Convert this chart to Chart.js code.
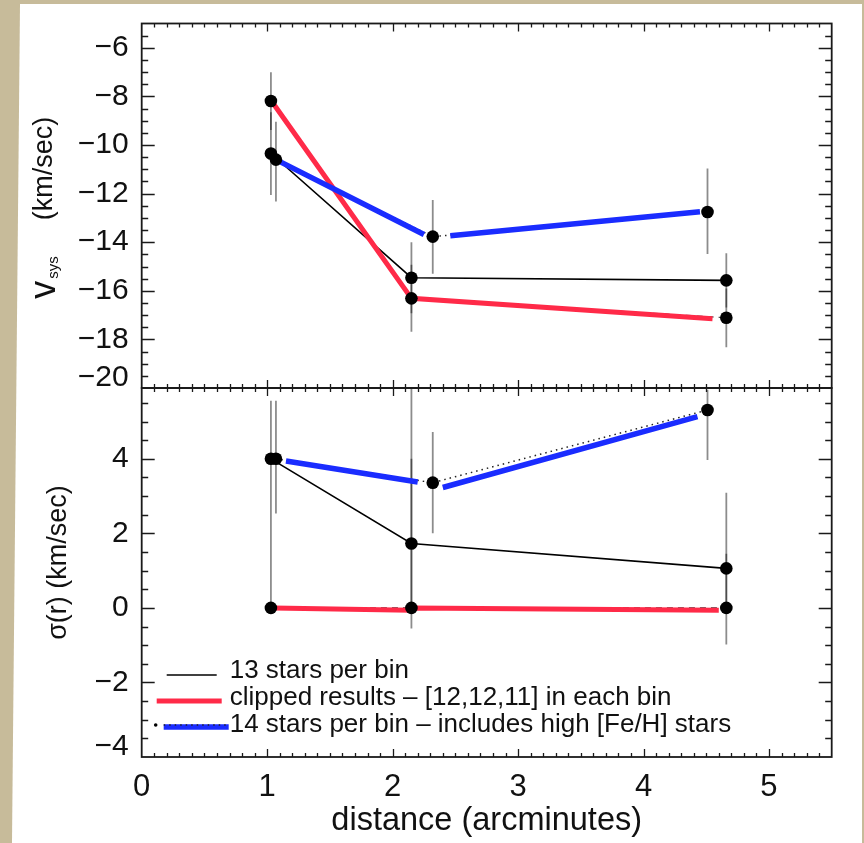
<!DOCTYPE html>
<html>
<head>
<meta charset="utf-8">
<title>vsys and sigma vs distance</title>
<script src="https://cdn.jsdelivr.net/npm/chart.js@4.4.1/dist/chart.umd.min.js"></script>
<style>
  html, body { margin: 0; padding: 0; }
  body { width: 864px; height: 843px; background: #c7bb9a; position: relative; overflow: hidden; }
  #paper { position: absolute; left: 0; top: 0; width: 864px; height: 843px; background: #fff;
           clip-path: polygon(20px 4px, 862px 4px, 862px 843px, 12px 843px); }
  canvas { position: absolute; left: 0; top: 0; }
</style>
</head>
<body>
<div id="paper"></div>
<canvas id="top" width="864" height="843"></canvas>
<canvas id="bottom" width="864" height="843"></canvas>
<script>
// values
const bin13X = [1.03, 2.15, 4.66];
const binFeX = [1.07, 2.32, 4.51];

const vsys13   = [-10.35, -15.46, -15.57];
const vsys13Lo = [-12.06, -16.92, -16.69];
const vsys13Hi = [-8.65, -14.0, -14.45];

const vsysClip   = [-8.19, -16.31, -17.11];
const vsysClipLo = [-9.38, -17.69, -18.32];
const vsysClipHi = [-7.01, -14.93, -15.91];

const vsysFe   = [-10.6, -13.77, -12.76];
const vsysFeLo = [-12.32, -15.3, -14.49];
const vsysFeHi = [-9.04, -12.26, -10.97];

// thick red / blue overlays (null = gap in the line)
const vsysClipLineX = [1.05, 2.15, 4.55];
const vsysClipLineY = [-8.3, -16.31, -17.15];
const vsysFeLineX = [1.07, 2.25, 2.36, 2.46, 4.45];
const vsysFeLineY = [-10.6, -13.68, null, -13.73, -12.75];

const sig13   = [4.0, 1.73, 1.06];
const sig13Lo = [0.0, -0.55, -0.98];
const sig13Hi = [5.56, 6.5, 3.09];

const sigClip   = [0, 0, 0];
const sigClipLo = [0, 0, 0];
const sigClipHi = [0, 4.0, 1.45];

const sigFe   = [4.0, 3.36, 5.31];
const sigFeLo = [2.53, 2.0, 3.97];
const sigFeHi = [5.56, 4.72, 5.85];

const sigClipLineX = [1.05, 2.14, 2.16, 4.6];
const sigClipLineY = [0, -0.06, 0, -0.06];
const sigFeLineX = [1.15, 2.2, 2.3, 2.4, 4.43];
const sigFeLineY = [3.94, 3.38, null, 3.23, 5.13];

const xTicks = [0, 1, 2, 3, 4, 5];
const vsysTicks = [-20, -18, -16, -14, -12, -10, -8, -6];
const sigTicks = [-4, -2, 0, 2, 4];

const seriesNames = ['13 stars per bin',
                     'clipped results \u2013 [12,12,11] in each bin',
                     '14 stars per bin \u2013 includes high [Fe/H] stars'];

const FONT = '"Liberation Sans", Arial, Helvetica, sans-serif';
const RED = '#ff2a48';
const BLUE = '#1a2cff';
const INK = '#111';
const AXIS_W = 141.7;
const RIGHT_PAD = 32.3;

Chart.defaults.font.family = FONT;
Chart.defaults.color = INK;

const pts = (xs, ys) => xs.map((x, i) => ({x: x, y: ys[i]}));
const fmt = v => (v < 0 ? '\u2212' + Math.abs(v) : String(v));

function panelDatasets(p) {
  const marker = {type: 'line', showLine: false, pointRadius: 6.3, pointBackgroundColor: '#000',
                  pointBorderWidth: 0, borderColor: '#000'};
  const line = {type: 'line', pointRadius: 0, tension: 0, spanGaps: false, fill: false};
  return [
    Object.assign({label: seriesNames[0], data: pts(bin13X, p.y13), errLo: p.lo13, errHi: p.hi13}, marker),
    Object.assign({label: seriesNames[1], data: pts(bin13X, p.yClip), errLo: p.loClip, errHi: p.hiClip}, marker),
    Object.assign({label: seriesNames[2], data: pts(binFeX, p.yFe), errLo: p.loFe, errHi: p.hiFe}, marker),
    Object.assign({data: pts(p.feLineX, p.feLineY), borderColor: BLUE, borderWidth: 5.5, borderCapStyle: 'butt'}, line),
    Object.assign({data: pts(p.clipLineX, p.clipLineY), borderColor: RED, borderWidth: 5, borderCapStyle: 'butt'}, line),
    Object.assign({data: pts(bin13X, p.y13), borderColor: '#000', borderWidth: 1.6}, line),
    Object.assign({data: pts(bin13X, p.yClip), borderColor: '#333', borderWidth: 1.1, borderDash: [6, 5]}, line),
    Object.assign({data: pts(binFeX, p.yFe), borderColor: '#222', borderWidth: 1.5, borderDash: [1.5, 4]}, line)
  ];
}

// gray error bars, under everything
const errorBars = {
  id: 'errorBars',
  beforeDatasetsDraw(chart) {
    const {ctx, chartArea: a, scales: {x, y}} = chart;
    ctx.save();
    ctx.beginPath();
    ctx.rect(a.left, a.top, a.right - a.left, a.bottom - a.top);
    ctx.clip();
    ctx.strokeStyle = 'rgba(0,0,0,0.45)';
    ctx.lineWidth = 1.8;
    chart.data.datasets.forEach(ds => {
      if (!ds.errLo) return;
      ds.data.forEach((p, i) => {
        if (ds.errHi[i] === ds.errLo[i]) return;
        const px = x.getPixelForValue(p.x);
        ctx.beginPath();
        ctx.moveTo(px, y.getPixelForValue(ds.errLo[i]));
        ctx.lineTo(px, y.getPixelForValue(ds.errHi[i]));
        ctx.stroke();
      });
    });
    ctx.restore();
  }
};

// box with inward ticks on all four sides
const idlFrame = {
  id: 'idlFrame',
  afterDatasetsDraw(chart, args, o) {
    const {ctx, chartArea: a, scales: {x, y}} = chart;
    const isMajor = (v, step) => Math.abs(v / step - Math.round(v / step)) < 1e-6;
    ctx.save();
    ctx.strokeStyle = '#1a1a1a';
    ctx.lineWidth = 1.3;
    ctx.beginPath();
    const nx = Math.round((x.max - x.min) / o.xMinor);
    for (let i = 1; i < nx; i++) {
      const v = x.min + i * o.xMinor;
      const px = Math.round(x.getPixelForValue(v)) + 0.5;
      const len = isMajor(v, o.xMajor) ? 8 : 4;
      ctx.moveTo(px, a.top); ctx.lineTo(px, a.top + len);
      ctx.moveTo(px, a.bottom); ctx.lineTo(px, a.bottom - len);
    }
    const ny = Math.round((y.max - y.min) / o.yMinor);
    for (let i = 1; i <= ny; i++) {
      const v = y.min + i * o.yMinor;
      if (v >= y.max) break;
      const py = Math.round(y.getPixelForValue(v)) + 0.5;
      const len = isMajor(v, o.yMajor) ? 13 : 6.5;
      ctx.moveTo(a.left, py); ctx.lineTo(a.left + len, py);
      ctx.moveTo(a.right, py); ctx.lineTo(a.right - len, py);
    }
    ctx.stroke();
    ctx.lineWidth = 1.8;
    ctx.strokeRect(a.left, a.top, a.right - a.left, a.bottom - a.top);
    ctx.restore();
  }
};

// rotated y titles; each run starts at (x baseline, y) and reads upward
function drawRuns(ctx, runs) {
  runs.forEach(r => {
    ctx.save();
    ctx.font = r.font;
    ctx.fillStyle = INK;
    ctx.textAlign = r.align || 'left';
    ctx.textBaseline = 'alphabetic';
    ctx.translate(r.x, r.y);
    ctx.rotate(-Math.PI / 2);
    ctx.fillText(r.text, 0, 0);
    ctx.restore();
  });
}

const yTitle = {
  id: 'yTitle',
  afterDraw(chart, args, o) {
    const a = chart.chartArea;
    const c = (a.top + a.bottom) / 2;
    if (o.kind === 'vsys') {
      drawRuns(chart.ctx, [
        {text: 'v', font: '36px ' + FONT, x: 55, y: c + 93},
        {text: 'sys', font: '15px ' + FONT, x: 58, y: c + 73},
        {text: '(km/sec)', font: '27px ' + FONT, x: 52, y: c + 14.5}
      ]);
    } else {
      drawRuns(chart.ctx, [
        {text: '\u03c3(r) (km/sec)', font: '27px ' + FONT, x: 66, y: c - 10, align: 'center'}
      ]);
    }
  }
};

// legend in the lower-left corner of the sigma panel
const cornerLegend = {
  id: 'cornerLegend',
  afterDraw(chart) {
    const {ctx, chartArea: a} = chart;
    const tx = a.left + 88;
    const rows = [a.bottom - 86, a.bottom - 59, a.bottom - 32];
    ctx.save();
    ctx.lineCap = 'butt';
    ctx.strokeStyle = '#000'; ctx.lineWidth = 1.6;
    ctx.beginPath(); ctx.moveTo(a.left + 25, rows[0] + 4); ctx.lineTo(a.left + 75, rows[0] + 4); ctx.stroke();
    ctx.strokeStyle = RED; ctx.lineWidth = 5;
    ctx.beginPath(); ctx.moveTo(a.left + 15, rows[1] + 3); ctx.lineTo(a.left + 80, rows[1] + 3); ctx.stroke();
    ctx.strokeStyle = BLUE; ctx.lineWidth = 5.5;
    ctx.beginPath(); ctx.moveTo(a.left + 22, rows[2] + 2); ctx.lineTo(a.left + 87, rows[2] + 2); ctx.stroke();
    ctx.strokeStyle = '#222'; ctx.lineWidth = 1.5; ctx.setLineDash([1.5, 4]);
    ctx.beginPath(); ctx.moveTo(a.left + 22, rows[2]); ctx.lineTo(a.left + 87, rows[2]); ctx.stroke();
    ctx.setLineDash([]);
    ctx.fillStyle = '#000';
    ctx.beginPath(); ctx.arc(a.left + 14, rows[2], 1.8, 0, Math.PI * 2); ctx.fill();
    ctx.fillStyle = INK;
    ctx.font = '26px ' + FONT;
    ctx.textBaseline = 'middle';
    seriesNames.forEach((t, i) => ctx.fillText(t, tx, rows[i]));
    ctx.restore();
  }
};

const commonPlugins = {legend: {display: false}, tooltip: {enabled: false},
                       idlFrame: {xMinor: 0.1, xMajor: 1, yMinor: 0.5, yMajor: 2}};

function yAxis(min, max, tickVals) {
  return {
    type: 'linear', min: min, max: max, position: 'left',
    grid: {display: false, drawTicks: false}, border: {display: false},
    afterFit: s => { s.width = AXIS_W; },
    afterBuildTicks: s => { s.ticks = tickVals.map(v => ({value: v})); },
    ticks: {
      autoSkip: false, padding: 13,
      font: {size: 30, lineHeight: 0.7},
      // the lowest label sits a little above its tick, as in the original
      callback: v => (v === min ? [fmt(v), ''] : fmt(v))
    },
    title: {display: false}
  };
}

new Chart(document.getElementById('top'), {
  data: {datasets: panelDatasets({
    y13: vsys13, lo13: vsys13Lo, hi13: vsys13Hi,
    yClip: vsysClip, loClip: vsysClipLo, hiClip: vsysClipHi,
    yFe: vsysFe, loFe: vsysFeLo, hiFe: vsysFeHi,
    clipLineX: vsysClipLineX, clipLineY: vsysClipLineY,
    feLineX: vsysFeLineX, feLineY: vsysFeLineY
  })},
  options: {
    responsive: false, animation: false, events: [],
    plugins: Object.assign({yTitle: {kind: 'vsys'}}, commonPlugins),
    layout: {padding: {left: 0, right: RIGHT_PAD, top: 19.3, bottom: 843 - 388}},
    scales: {
      x: {type: 'linear', min: 0, max: 5.5, display: false},
      y: yAxis(-20, -5, vsysTicks)
    }
  },
  plugins: [errorBars, idlFrame, yTitle]
});

new Chart(document.getElementById('bottom'), {
  data: {datasets: panelDatasets({
    y13: sig13, lo13: sig13Lo, hi13: sig13Hi,
    yClip: sigClip, loClip: sigClipLo, hiClip: sigClipHi,
    yFe: sigFe, loFe: sigFeLo, hiFe: sigFeHi,
    clipLineX: sigClipLineX, clipLineY: sigClipLineY,
    feLineX: sigFeLineX, feLineY: sigFeLineY
  })},
  options: {
    responsive: false, animation: false, events: [],
    plugins: Object.assign({yTitle: {kind: 'sigma'}}, commonPlugins),
    layout: {padding: {left: 0, right: RIGHT_PAD, top: 388, bottom: 0}},
    scales: {
      x: {
        type: 'linear', min: 0, max: 5.5, position: 'bottom',
        grid: {display: false, drawTicks: false}, border: {display: false},
        afterFit: s => { s.height = 86; },
        afterBuildTicks: s => { s.ticks = xTicks.map(v => ({value: v})); },
        ticks: {autoSkip: false, maxRotation: 0, padding: 11.5, font: {size: 31}, callback: v => fmt(v)},
        title: {display: true, text: 'distance (arcminutes)', font: {size: 32.5}, padding: {top: 0, bottom: 2}}
      },
      y: yAxis(-4, 5.9, sigTicks)
    }
  },
  plugins: [errorBars, idlFrame, yTitle, cornerLegend]
});
</script>
</body>
</html>
